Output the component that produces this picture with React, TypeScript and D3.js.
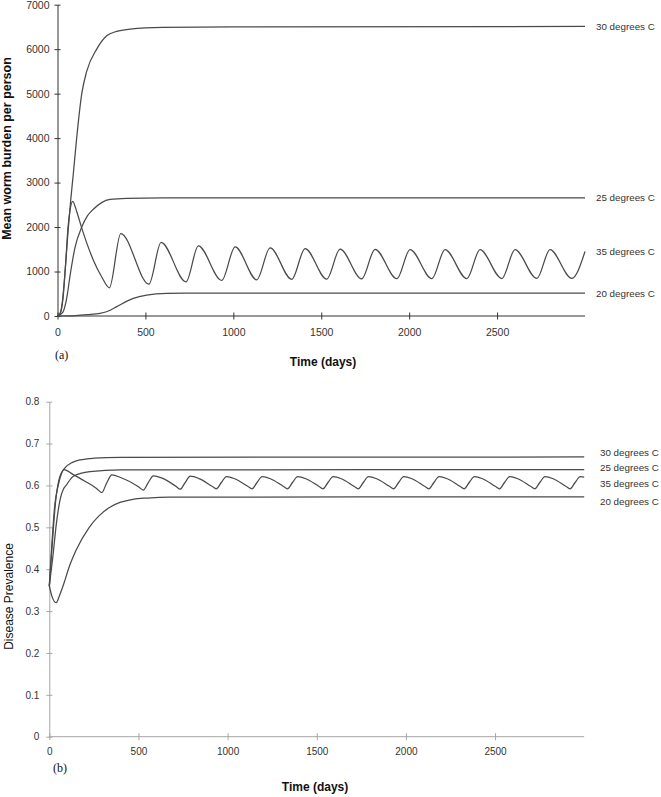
import React, { useEffect, useRef } from 'react';
import * as d3 from 'd3';

type Pt = [number, number];

// Tick values
const dayTicks = [0, 500, 1000, 1500, 2000, 2500];
const wormTicks = [0, 1000, 2000, 3000, 4000, 5000, 6000, 7000];
const prevTicks = [0, 0.1, 0.2, 0.3, 0.4, 0.5, 0.6, 0.7, 0.8];

const seriesNames = ['30 degrees C', '25 degrees C', '35 degrees C', '20 degrees C'];

// (a) mean worm burden per person, [day, worms]
const worm30: Pt[] = [
  [0, 0], [15, 60], [30, 400], [45, 1100], [60, 1900], [75, 2600], [90, 3200],
  [109, 4000], [138, 5000], [166, 5500], [223, 6000], [280, 6300], [337, 6400],
  [412, 6450], [600, 6490], [1000, 6500], [3000, 6510],
];
const worm25: Pt[] = [
  [0, 0], [30, 80], [50, 350], [75, 1000], [100, 1550], [138, 2000], [170, 2250],
  [204, 2400], [251, 2550], [299, 2620], [394, 2645], [600, 2655], [3000, 2658],
];
const worm35: Pt[] = [
  [0, 0], [15, 50], [30, 350], [45, 1100], [60, 2000], [72, 2400], [86, 2580],
  [110, 2340], [138, 1975], [204, 1256], [251, 882], [295, 635],
  [360, 1855], [520, 718], [589, 1653], [731, 770], [801, 1577], [934, 800],
  [1010, 1555], [1133, 815], [1209, 1530], [1332, 825], [1408, 1515], [1531, 830],
  [1607, 1505], [1730, 835], [1806, 1500], [1930, 838], [2005, 1495], [2129, 840],
  [2204, 1492], [2328, 842], [2403, 1490], [2527, 843], [2602, 1490], [2726, 844],
  [2801, 1490], [2925, 845], [3000, 1450],
];
const worm20: Pt[] = [
  [0, 0], [100, 10], [170, 30], [242, 60], [300, 130], [337, 210], [431, 397],
  [507, 471], [621, 509], [800, 515], [3000, 516],
];

// (b) disease prevalence, [day, fraction]
const prev30: Pt[] = [
  [0, 0.36], [13, 0.45], [30, 0.55], [50, 0.6], [70, 0.63], [88, 0.642], [130, 0.655],
  [172, 0.661], [250, 0.665], [400, 0.667], [3000, 0.668],
];
const prev25: Pt[] = [
  [0, 0.36], [20, 0.43], [40, 0.51], [60, 0.565], [80, 0.592], [94, 0.6], [135, 0.622],
  [228, 0.633], [400, 0.637], [3000, 0.638],
];
const prev35: Pt[] = [
  [0, 0.36], [15, 0.45], [35, 0.56], [55, 0.615], [70, 0.632], [83, 0.638],
  [130, 0.627], [200, 0.61], [265, 0.593], [294, 0.583],
  [322, 0.606], [351, 0.625], [400, 0.619], [500, 0.597], [527, 0.589],
  [555, 0.607], [584, 0.623], [630, 0.618], [710, 0.598], [734, 0.591],
  [762, 0.607], [791, 0.622], [837, 0.617], [913, 0.598], [937, 0.592],
  [965, 0.607], [994, 0.621], [1040, 0.616], [1113, 0.598], [1137, 0.592],
  [1165, 0.607], [1194, 0.621], [1240, 0.616], [1312, 0.598], [1336, 0.592],
  [1364, 0.607], [1393, 0.621], [1439, 0.616], [1511, 0.598], [1535, 0.592],
  [1563, 0.607], [1592, 0.621], [1638, 0.616], [1709, 0.598], [1733, 0.592],
  [1761, 0.607], [1790, 0.621], [1836, 0.616], [1907, 0.598], [1931, 0.592],
  [1959, 0.607], [1988, 0.621], [2034, 0.616], [2105, 0.598], [2129, 0.592],
  [2157, 0.607], [2186, 0.621], [2232, 0.616], [2303, 0.598], [2327, 0.592],
  [2355, 0.607], [2384, 0.621], [2430, 0.616], [2501, 0.598], [2525, 0.592],
  [2553, 0.607], [2582, 0.621], [2628, 0.616], [2699, 0.598], [2723, 0.592],
  [2751, 0.607], [2780, 0.621], [2826, 0.616], [2897, 0.598], [2921, 0.592],
  [2949, 0.607], [2978, 0.621], [3000, 0.62],
];
const prev20: Pt[] = [
  [0, 0.36], [15, 0.335], [38, 0.32], [60, 0.34], [85, 0.37], [107, 0.4], [150, 0.445],
  [224, 0.5], [280, 0.528], [340, 0.548], [400, 0.56], [470, 0.567], [550, 0.57],
  [680, 0.572], [3000, 0.573],
];

const SANS = '"Liberation Sans", Arial, sans-serif';
const SERIF = '"Liberation Serif", "Times New Roman", serif';

const App = () => {
  const svgRef = useRef<SVGSVGElement>(null);

  useEffect(() => {
    const svg = d3.select(svgRef.current);
    svg.selectAll('*').remove();

    const drawPanel = (opts: {
      x: d3.ScaleLinear<number, number>;
      y: d3.ScaleLinear<number, number>;
      series: Pt[][];
      yTicks: number[];
      yFormat: (d: number) => string;
      axisColor: string;
      fontSize: number;
      yLabelX: number;
      xLabelY: number;
      labelX: number;
      labelY: number[];
    }) => {
      const { x, y } = opts;
      const g = svg.append('g');

      const yAxis = g
        .append('g')
        .attr('transform', `translate(${x(0)},0)`)
        .call(
          d3.axisLeft(y).tickValues(opts.yTicks).tickSizeOuter(0).tickSizeInner(3)
            .tickFormat((d) => opts.yFormat(+d))
        );
      yAxis.selectAll('.tick line').attr('x1', 3);
      yAxis.selectAll('.tick text').attr('x', opts.yLabelX);

      const xAxis = g
        .append('g')
        .attr('transform', `translate(0,${y(0)})`)
        .call(
          d3.axisBottom(x).tickValues(dayTicks).tickSizeOuter(0).tickSizeInner(3.5)
            .tickFormat(d3.format('d'))
        );
      xAxis.selectAll('.tick line').attr('y1', -3.5);
      xAxis.selectAll('.tick text').attr('y', opts.xLabelY).attr('dy', 0);

      [yAxis, xAxis].forEach((a) => {
        a.attr('font-family', SANS).attr('font-size', opts.fontSize);
        a.select('.domain').attr('stroke', opts.axisColor).attr('stroke-width', 1);
        a.selectAll('.tick line').attr('stroke', opts.axisColor);
        a.selectAll('.tick text').attr('fill', '#333');
      });
      // horizontal axis runs to the end of the data
      xAxis.select('.domain').attr('d', `M${x(0)},0H${x(3000)}`);

      const line = d3
        .line<Pt>()
        .x((d) => x(d[0]))
        .y((d) => y(d[1]))
        .curve(d3.curveMonotoneX);

      opts.series.forEach((s, i) => {
        g.append('path')
          .datum(s)
          .attr('fill', 'none')
          .attr('stroke', '#4a4a4a')
          .attr('stroke-width', 1.25)
          .attr('d', line);
        g.append('text')
          .attr('x', opts.labelX)
          .attr('y', opts.labelY[i])
          .attr('font-family', SANS)
          .attr('font-size', 9.8)
          .attr('fill', '#333')
          .text(seriesNames[i]);
      });
      return g;
    };

    // (a)
    const xA = d3.scaleLinear().domain([0, 3000]).range([57.5, 585]);
    const yA = d3.scaleLinear().domain([0, 7000]).range([316, 4.7]);
    const sA = [worm30, worm25, worm35, worm20];
    drawPanel({
      x: xA,
      y: yA,
      series: sA,
      yTicks: wormTicks,
      yFormat: d3.format('d'),
      axisColor: '#333',
      fontSize: 10.5,
      yLabelX: -8,
      xLabelY: 19.5,
      labelX: 596,
      labelY: sA.map((s) => yA(s[s.length - 1][1]) + 3.5),
    });

    // (b)
    const xB = d3.scaleLinear().domain([0, 3000]).range([49.3, 584.2]);
    const yB = d3.scaleLinear().domain([0, 0.8]).range([736.7, 401.7]);
    const sB = [prev30, prev25, prev35, prev20];
    const bOffsets = [-1, 1, 9.5, 8];
    drawPanel({
      x: xB,
      y: yB,
      series: sB,
      yTicks: prevTicks,
      yFormat: (d) => (d === 0 ? '0' : d3.format('.1f')(d)),
      axisColor: '#a6a6a6',
      fontSize: 10,
      yLabelX: -10,
      xLabelY: 18.8,
      labelX: 600,
      labelY: sB.map((s, i) => yB(s[s.length - 1][1]) + bOffsets[i]),
    });

    // titles
    svg.append('text')
      .attr('transform', 'translate(10.5,148.5) rotate(-90)')
      .attr('text-anchor', 'middle')
      .attr('font-family', SANS)
      .attr('font-weight', 'bold')
      .attr('font-size', 12.5)
      .attr('fill', '#111')
      .text('Mean worm burden per person');

    svg.append('text')
      .attr('transform', 'translate(12.6,596.5) rotate(-90)')
      .attr('text-anchor', 'middle')
      .attr('font-family', SANS)
      .attr('font-size', 12)
      .attr('fill', '#111')
      .text('Disease Prevalence');

    [[323, 366], [315, 791]].forEach(([cx, cy]) => {
      svg.append('text')
        .attr('x', cx)
        .attr('y', cy)
        .attr('text-anchor', 'middle')
        .attr('font-family', SANS)
        .attr('font-weight', 'bold')
        .attr('font-size', 12)
        .attr('fill', '#111')
        .text('Time (days)');
    });

    svg.append('text')
      .attr('x', 55).attr('y', 359)
      .attr('font-family', SERIF).attr('font-size', 12).attr('fill', '#111')
      .text('(a)');
    svg.append('text')
      .attr('x', 53).attr('y', 772)
      .attr('font-family', SERIF).attr('font-size', 12).attr('fill', '#111')
      .text('(b)');
  }, []);

  return (
    <svg
      ref={svgRef}
      width={661}
      height={797}
      style={{ position: 'absolute', left: 0, top: 0, background: '#fff' }}
    />
  );
};

export default App;
